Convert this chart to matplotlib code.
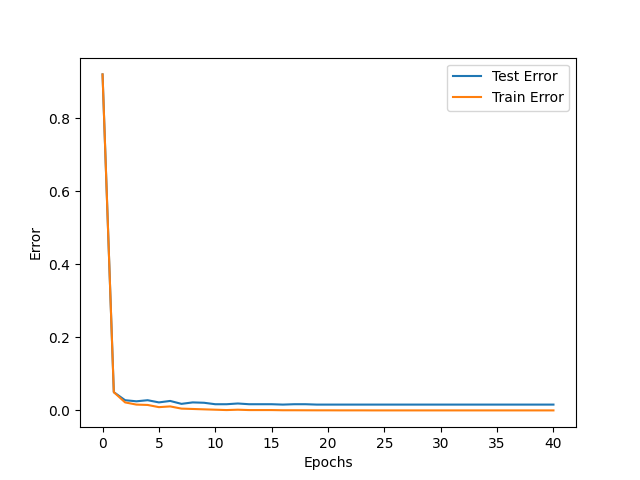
import matplotlib
matplotlib.use('Agg')
import matplotlib.pyplot as plt

# Error per epoch
epochs = list(range(41))
test_error = [0.920, 0.050, 0.028, 0.025, 0.028, 0.022, 0.026, 0.018, 0.022, 0.021,
              0.017, 0.017, 0.019, 0.017, 0.017, 0.017, 0.016, 0.017, 0.017, 0.016,
              0.016, 0.016, 0.016, 0.016, 0.016, 0.016, 0.016, 0.016, 0.016, 0.016,
              0.016, 0.016, 0.016, 0.016, 0.016, 0.016, 0.016, 0.016, 0.016, 0.016,
              0.016]
train_error = [0.920, 0.050, 0.022, 0.016, 0.015, 0.009, 0.011, 0.005, 0.004, 0.003,
               0.002, 0.001, 0.002, 0.001, 0.001, 0.001, 0.0005, 0.0005, 0.0004, 0.0003,
               0.0003, 0.0002, 0.0002, 0.0002, 0.0001, 0.0001, 0.0001, 0.0001, 0.0001, 0.0001,
               0.0001, 0.0001, 0.0001, 0.0001, 0.0001, 0.0001, 0.0001, 0.0001, 0.0001, 0.0001,
               0.0001]

fig = plt.figure(figsize=(6.4, 4.8), dpi=100)
plt.plot(epochs, test_error, label='Test Error')
plt.plot(epochs, train_error, label='Train Error')
plt.xlabel('Epochs')
plt.ylabel('Error')
plt.legend()
plt.savefig('out.png')
